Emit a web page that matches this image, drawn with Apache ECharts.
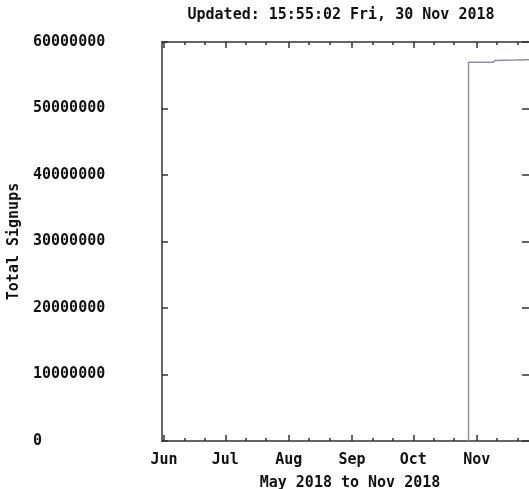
<!DOCTYPE html>
<html>
<head>
<meta charset="utf-8">
<script src="https://cdn.jsdelivr.net/npm/echarts@6/dist/echarts.min.js"></script>
<style>html,body{margin:0;padding:0;background:#fff}#c{width:529px;height:489px}</style>
</head>
<body>
<div id="c"></div>
<script>
const titleText = 'Updated: 15:55:02 Fri, 30 Nov 2018';
const xName = 'May 2018 to Nov 2018';
const yName = 'Total Signups';
const xMin = '2018-05-31';
const xMax = '2018-12-01';
const monthTicks = ['2018-06-01','2018-07-01','2018-08-01','2018-09-01','2018-10-01','2018-11-01'];
const monthLabels = ['Jun','Jul','Aug','Sep','Oct','Nov'];
const minorTicks = ['2018-06-11','2018-06-21','2018-07-11','2018-07-21','2018-08-11','2018-08-21',
  '2018-09-11','2018-09-21','2018-10-11','2018-10-21','2018-11-11','2018-11-21'];
const dates = ['2018-10-28 00:00','2018-10-28 00:01','2018-11-09 00:00','2018-11-10 00:00','2018-11-20 00:00','2018-11-30 15:55'];
const signups = [0, 56950000, 56970000, 57220000, 57290000, 57380000];
const yMax = 60000000, yStep = 10000000;

// day number since xMin (UTC based, so no timezone issues)
const dayNum = s => {
  const [d, t] = s.split(' ');
  const [Y, M, D] = d.split('-').map(Number);
  let ms = Date.UTC(Y, M - 1, D);
  if (t) { const [h, m] = t.split(':').map(Number); ms += (h * 60 + m) * 60000; }
  const [Y0, M0, D0] = xMin.split('-').map(Number);
  return (ms - Date.UTC(Y0, M0 - 1, D0)) / 86400000;
};
const FONT = 'DejaVu Sans Mono';
const txt = {fontFamily: FONT, fontWeight: 'bold', fontSize: 15, color: '#111'};
const lineCol = '#333';
const monthVals = monthTicks.map(dayNum);

function xAxisDef(pos, major, withLabels) {
  const vals = (major ? monthTicks : minorTicks).map(dayNum);
  return {
    type: 'value', position: pos, min: 0, max: dayNum(xMax),
    axisLine: {show: major, onZero: false, lineStyle: {color: lineCol, width: 1.5}},
    axisTick: {show: true, inside: true, length: major ? 6 : 3, customValues: vals,
      lineStyle: {color: lineCol, width: 1.5}},
    axisLabel: withLabels ? Object.assign({show: true, customValues: monthVals, margin: 12,
      formatter: v => { const i = monthVals.findIndex(m => Math.abs(m - v) < 0.01); return i >= 0 ? monthLabels[i] : ''; }}, txt)
      : {show: false},
    splitLine: {show: false},
    name: withLabels ? xName : '', nameLocation: 'middle', nameGap: 35, nameTextStyle: txt
  };
}

const chart = echarts.init(document.getElementById('c'));
chart.setOption({
  animation: false,
  backgroundColor: '#fff',
  grid: {left: 162, top: 42, width: 376, height: 399, containLabel: false, outerBoundsMode: 'none'},
  graphic: [{type: 'text', x: 341, y: 15, style: {text: titleText, textAlign: 'center', textVerticalAlign: 'middle',
    font: 'bold 15px "DejaVu Sans Mono"', fill: '#111'}}],
  xAxis: [xAxisDef('bottom', true, true), xAxisDef('bottom', false, false),
          xAxisDef('top', true, false), xAxisDef('top', false, false)],
  yAxis: [
    {type: 'value', position: 'left', min: 0, max: yMax, interval: yStep,
     axisLine: {show: true, onZero: false, lineStyle: {color: lineCol, width: 1.5}},
     axisTick: {show: true, inside: true, length: 6, lineStyle: {color: lineCol, width: 1.5}},
     axisLabel: Object.assign({align: 'left', margin: 129, formatter: v => String(v)}, txt),
     splitLine: {show: false},
     name: yName, nameLocation: 'middle', nameRotate: 90, nameGap: 134, nameTextStyle: txt},
    {type: 'value', position: 'right', min: 0, max: yMax, interval: yStep,
     axisLine: {show: true, onZero: false, lineStyle: {color: lineCol, width: 1.5}},
     axisTick: {show: true, inside: true, length: 16, lineStyle: {color: lineCol, width: 1.5}},
     axisLabel: {show: false}, splitLine: {show: false}}
  ],
  series: [{
    type: 'line', xAxisIndex: 0, yAxisIndex: 0, showSymbol: false,
    data: dates.map((d, i) => [dayNum(d), signups[i]]),
    lineStyle: {color: '#8e8eb4', width: 1.5}
  }]
});
</script>
</body>
</html>
